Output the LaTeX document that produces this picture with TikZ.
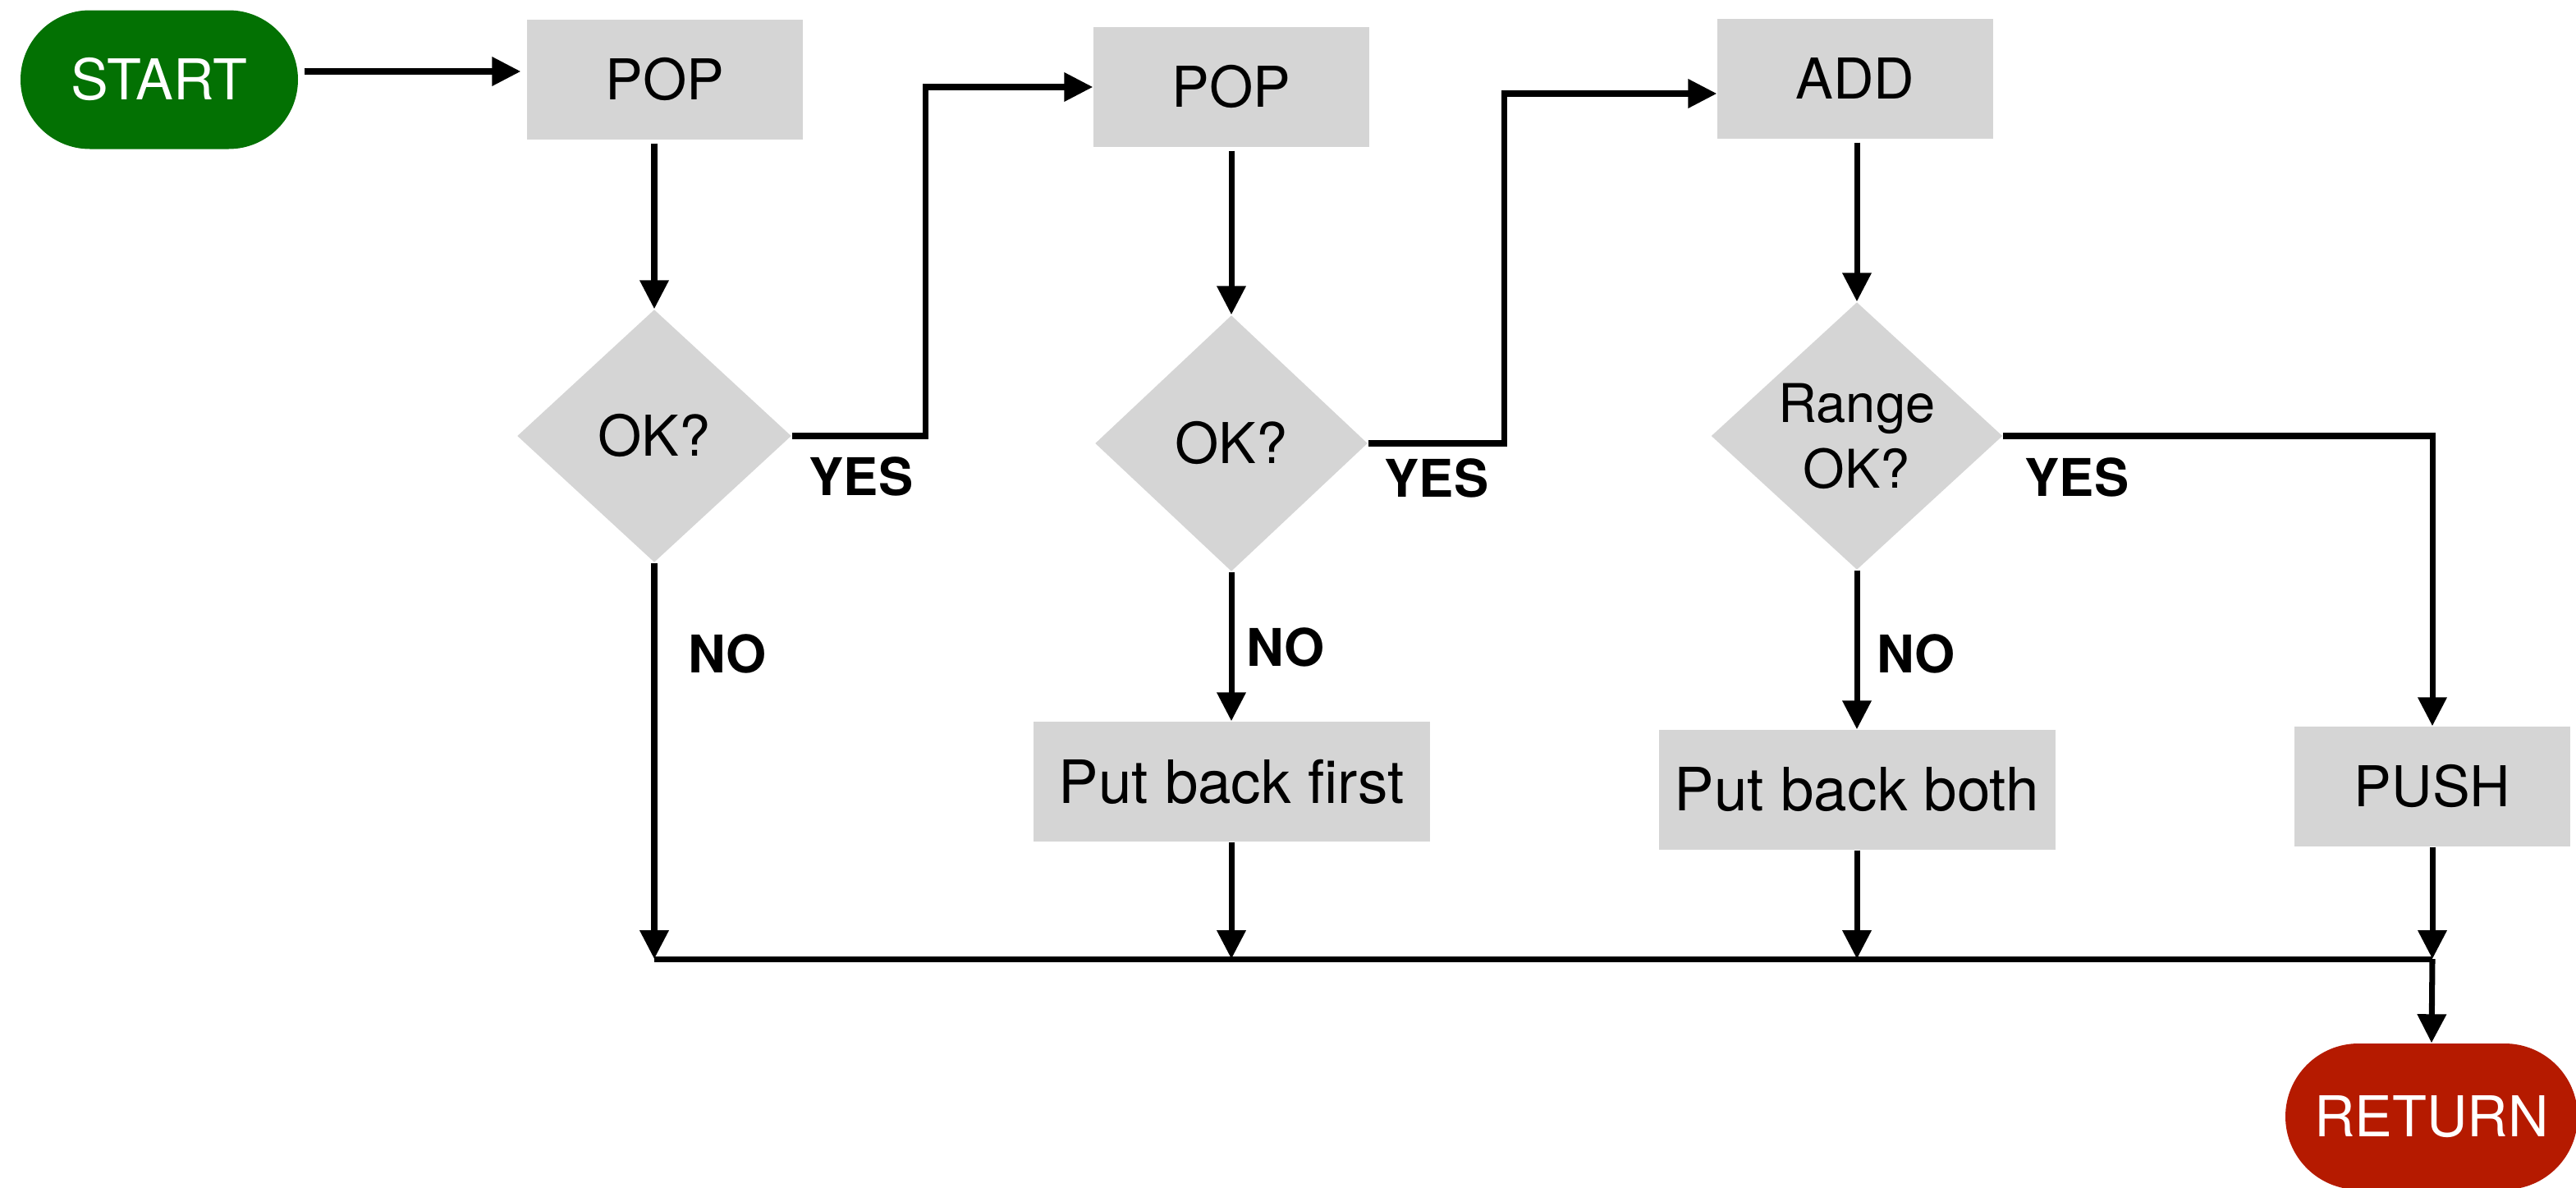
\documentclass[tikz,border=0pt]{standalone}
\usepackage{fontspec}
\setmainfont{TeX Gyre Heros}
\usetikzlibrary{arrows.meta, shapes.geometric}
\definecolor{startgreen}{HTML}{037103}
\definecolor{returnred}{HTML}{B51A00}
\definecolor{boxgray}{HTML}{D5D5D5}

\begin{document}
\begin{tikzpicture}[
    >={Triangle[length=0.35cm, width=0.34cm]},
    every node/.style={font=\fontsize{19.5}{23}\selectfont},
    box/.style={rectangle, fill=boxgray, minimum width=3.36cm, minimum height=1.46cm, inner sep=0pt},
    widebox/.style={box, minimum width=4.83cm, font=\fontsize{20.7}{25}\selectfont},
    test/.style={diamond, fill=boxgray, inner sep=0pt, align=center},
    terminal/.style={rectangle, text=white, inner sep=0pt},
    lbl/.style={font=\bfseries\fontsize{18}{22}\selectfont},
    flow/.style={line width=2pt, ->},
    bus/.style={line width=2pt}
  ]
  \useasboundingbox (0,0) rectangle (31.38,-14.46);

  % Start a konec
  \node[terminal, fill=startgreen, minimum width=3.38cm, minimum height=1.69cm,
        rounded corners=0.845cm, font=\fontsize{19.5}{23}\selectfont] (start) at (1.94,-0.97) {START};
  \node[terminal, fill=returnred, minimum width=3.56cm, minimum height=1.78cm,
        rounded corners=0.89cm, font=\fontsize{19.5}{23}\selectfont] (ret) at (29.62,-13.60) {RETURN};

  % Kroky
  \node[box] (pop1) at (8.10,-0.97) {POP};
  \node[box] (pop2) at (15.00,-1.06) {POP};
  \node[box] (add) at (22.60,-0.96) {ADD};
  \node[widebox] (pbfirst) at (15.00,-9.52) {Put back first};
  \node[widebox] (pbboth) at (22.62,-9.62) {Put back both};
  \node[box] (push) at (29.63,-9.58) {PUSH};

  % Rozhodnuti
  \node[test, minimum width=3.34cm, minimum height=3.08cm] (ok1) at (7.97,-5.31) {OK?};
  \node[test, minimum width=3.32cm, minimum height=3.12cm] (ok2) at (15.00,-5.40) {OK?};
  \node[test, minimum width=3.55cm, minimum height=3.26cm,
        font=\fontsize{18.5}{22.7}\selectfont] (ok3) at (22.62,-5.31) {Range\\OK?};

  % Popisy
  \node[lbl] (yes1) at (10.49,-5.80) {YES};
  \node[lbl] (yes2) at (17.50,-5.82) {YES};
  \node[lbl] (yes3) at (25.30,-5.81) {YES};
  \node[lbl] (no1) at (8.86,-7.96) {NO};
  \node[lbl] (no2) at (15.66,-7.88) {NO};
  \node[lbl] (no3) at (23.34,-7.96) {NO};

  % Sberna cara
  \coordinate (busline) at (0,-11.68);
  \coordinate (bus1) at (ok1 |- busline);
  \coordinate (bus2) at (pbfirst |- busline);
  \coordinate (bus3) at (pbboth |- busline);
  \coordinate (bus4) at (push |- busline);

  % Spojeni
  \draw[flow, shorten <=0.07cm, shorten >=0.07cm]
    ([yshift=0.1cm]start.east) -- ([yshift=0.1cm]pop1.west);
  \draw[flow, shorten <=0.04cm] (pop1.south -| ok1.north) -- (ok1.north);
  \draw[flow] (ok1.east) -- ++(1.63,0) |- (pop2.west);
  \draw[flow, shorten <=0.04cm] (pop2.south) -- (ok2.north);
  \draw[flow] (ok2.east) -- ++(1.66,0) |- ([yshift=-0.18cm]add.west);
  \draw[flow, shorten <=0.04cm] (add.south -| ok3.north) -- (ok3.north);
  \draw[flow] (ok3.east) -| (push.north);
  \draw[flow] (ok2.south) -- (pbfirst.north);
  \draw[flow] (ok3.south) -- (pbboth.north);

  \draw[flow] (ok1.south) -- (bus1);
  \draw[flow] (pbfirst.south) -- (bus2);
  \draw[flow] (pbboth.south) -- (bus3);
  \draw[flow] (push.south) -- (bus4);
  \draw[bus] (bus1) -- (bus4);
  \draw[flow] (bus4) -- (ret.north);
\end{tikzpicture}
\end{document}
